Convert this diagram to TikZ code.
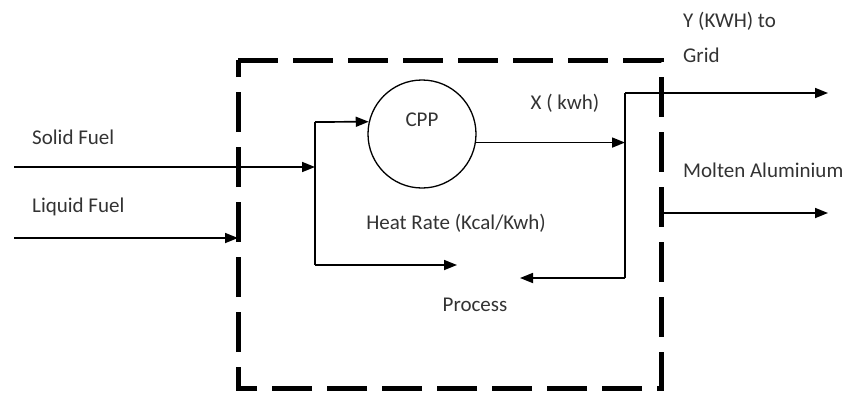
\documentclass[tikz,border=0pt]{standalone}
\usepackage{fontspec}
\setmainfont{Carlito}
\usetikzlibrary{arrows.meta, positioning}

\begin{document}
\begin{tikzpicture}[
    x=1pt, y=-1pt,
    lbl/.style={font=\fontsize{21}{25}\selectfont, text=black!80, inner sep=0pt},
    plant/.style={circle, draw, line width=1.3pt, minimum size=108pt, inner sep=0pt},
    arrow/.style={-{Triangle[length=13pt,width=10pt]}, line width=1.7pt},
    line/.style={line width=1.7pt},
    boundary/.style={line width=5pt, dash pattern=on 40pt off 15pt}
]
    \useasboundingbox (0,0) rectangle (852,392);

    % system boundary
    \draw [boundary] (238,60) -- (661,60) -- (661,388) -- (238,388) -- cycle;

    \node [plant] (cpp) at (422,134) {};
    \node [lbl] (cpplbl) at ([yshift=14pt]cpp.center) {CPP};

    \node [lbl, anchor=west] (solidlbl) at (32,137) {Solid Fuel};
    \node [lbl, anchor=west] (liquidlbl) at (32,207) {Liquid Fuel};
    \node [lbl] (xlbl) at (565,103) {X ( kwh)};
    \node [lbl] (heatlbl) at (456,223) {Heat Rate (Kcal/Kwh)};
    \node [lbl] (process) at (475,305) {Process};
    \node [lbl, anchor=west] (ylbl) at (683,21) {Y (KWH) to};
    \node [lbl, anchor=west] (gridlbl) at (683,55) {Grid};
    \node [lbl, anchor=west] (moltenlbl) at (683,170) {Molten Aluminium};

    \coordinate (solidin) at (14,167);
    \coordinate (split) at (315,167);
    \coordinate (splittop) at (315,122);
    \coordinate (splitbot) at (315,265);
    \coordinate (liquidin) at (14,238);
    \coordinate (liquidend) at (238,238);
    \coordinate (mergetop) at (625,93);
    \coordinate (mergebot) at (625,278);
    \coordinate (processin) at (457,265);
    \coordinate (processret) at (520,278);
    \coordinate (gridout) at (828,93);
    \coordinate (alstart) at (661,213);
    \coordinate (alout) at (828,213);

    % fuel in
    \draw [arrow] (solidin) -- (split);
    \draw [arrow] (liquidin) -- (liquidend);
    \draw [line] (splittop) -- (splitbot);
    \draw [arrow] (splittop) -- (cpp.167);
    \draw [arrow] (splitbot) -- (processin);

    % power out
    \draw [arrow] (cpp.-9) -- (cpp.-9 -| mergetop);
    \draw [line] (mergetop) -- (mergebot);
    \draw [arrow] (mergetop) -- (gridout);
    \draw [arrow] (mergebot) -- (processret);
    \draw [arrow] (alstart) -- (alout);
\end{tikzpicture}
\end{document}
